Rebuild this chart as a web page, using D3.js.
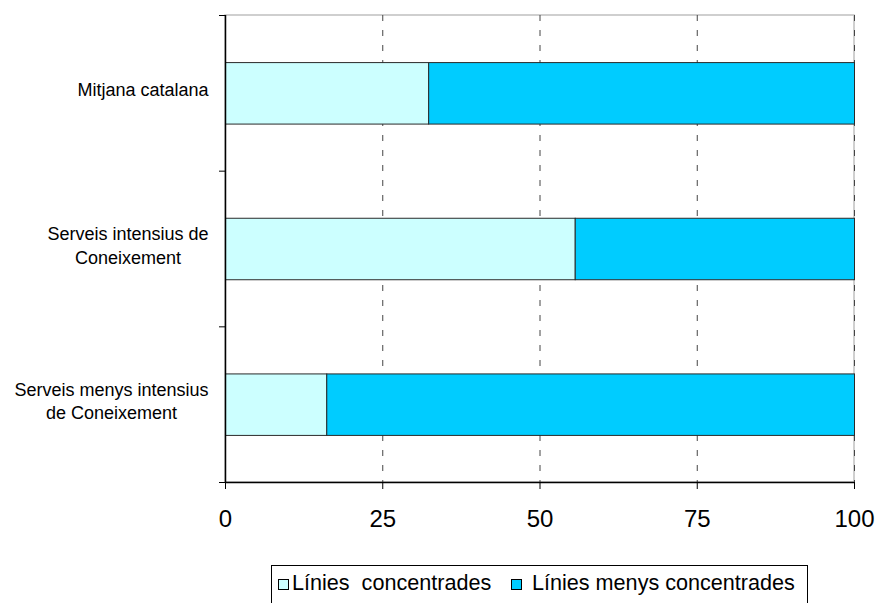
<!DOCTYPE html>
<html>
<head>
<meta charset="utf-8">
<script src="https://cdn.jsdelivr.net/npm/d3@7"></script>
<style>
  html, body { margin: 0; padding: 0; background: #fff; }
  svg { display: block; font-family: "Liberation Sans", Arial, sans-serif; }
  .pre { white-space: pre; }
</style>
</head>
<body>
<svg id="chart" width="877" height="603"></svg>
<script>
// Categories (top to bottom), each label split into its display lines
const categories = ["Mitjana catalana", "Serveis intensius de Coneixement", "Serveis menys intensius de Coneixement"];
const categoryLines = [["Mitjana catalana"], ["Serveis intensius de", "Coneixement"], ["Serveis menys intensius", "de Coneixement"]];

// Share of each category (%)
const concentrated = [32.3, 55.6, 16.1];
const lessConcentrated = [67.7, 44.4, 83.9];

const seriesNames = ["Línies  concentrades", "Línies menys concentrades"];
const seriesColors = ["#CCFFFF", "#00CCFF"];
const xTicks = [0, 25, 50, 75, 100];

const svg = d3.select("#chart");
const plot = { left: 225, right: 854, top: 15, bottom: 482 };

const x = d3.scaleLinear().domain([0, 100]).range([plot.left, plot.right]);
const y = d3.scaleBand().domain(categories).range([plot.top, plot.bottom])
  .paddingInner(0.605).paddingOuter(0.3025);
const step = y.step();

// Plot area frame
svg.append("rect")
  .attr("x", plot.left).attr("y", plot.top)
  .attr("width", plot.right - plot.left).attr("height", plot.bottom - plot.top)
  .attr("fill", "none").attr("stroke", "#c0c0c0").attr("stroke-width", 1.5);

// Dashed vertical gridlines
svg.append("g").selectAll("line")
  .data(xTicks.filter(d => d > 0))
  .join("line")
  .attr("x1", d => x(d) + 0.5).attr("x2", d => x(d) + 0.5)
  .attr("y1", plot.top).attr("y2", plot.bottom)
  .attr("stroke", "#444").attr("stroke-width", 1)
  .attr("stroke-dasharray", "6,9");

// Stacked bars
const stackData = categories.map((c, i) => ({ cat: c, a: concentrated[i], b: lessConcentrated[i] }));
const stack = d3.stack().keys(["a", "b"])(stackData);
svg.append("g").selectAll("g")
  .data(stack)
  .join("g")
  .attr("fill", (d, i) => seriesColors[i])
  .selectAll("rect")
  .data(d => d)
  .join("rect")
  .attr("x", d => x(d[0]) + 0.5)
  .attr("y", d => y(d.data.cat) + 0.5)
  .attr("width", d => x(d[1]) - x(d[0]))
  .attr("height", y.bandwidth())
  .attr("stroke", "#2a2a2a").attr("stroke-width", 1);

// Y axis line and ticks at category boundaries
const yAxis = svg.append("g");
yAxis.append("line")
  .attr("x1", plot.left + 0.5).attr("x2", plot.left + 0.5)
  .attr("y1", plot.top).attr("y2", plot.bottom)
  .attr("stroke", "#000").attr("stroke-width", 1.5);
yAxis.selectAll(".tick")
  .data(d3.range(categories.length + 1))
  .join("line")
  .attr("x1", plot.left - 6).attr("x2", plot.left)
  .attr("y1", i => plot.top + i * step + 0.5).attr("y2", i => plot.top + i * step + 0.5)
  .attr("stroke", "#000").attr("stroke-width", 1);

// Category labels: block right-aligned, lines centred within the block
const labelRight = 208.5;
const lineH = 23.3;
categoryLines.forEach((lines, i) => {
  const g = svg.append("g");
  const texts = g.selectAll("text").data(lines).join("text")
    .attr("font-size", 18).attr("fill", "#000")
    .attr("text-anchor", "middle")
    .text(d => d);
  const widths = texts.nodes().map(n => n.getComputedTextLength());
  const maxW = d3.max(widths);
  const cx = labelRight - maxW / 2;
  const cy = y(categories[i]) + y.bandwidth() / 2 - 3;
  const firstBase = cy + 6.5 - (lines.length - 1) * lineH / 2;
  texts.attr("x", cx).attr("y", (d, j) => firstBase + j * lineH);
});

// X axis
const xAxis = svg.append("g").attr("transform", `translate(0,${plot.bottom})`)
  .call(d3.axisBottom(x).tickValues(xTicks).tickSize(7).tickPadding(10).tickFormat(d3.format("d")));
xAxis.select(".domain").attr("stroke", "#000").attr("stroke-width", 1.5)
  .attr("d", `M${plot.left},0.5H${plot.right}`);
xAxis.selectAll(".tick line").attr("stroke", "#000");
xAxis.selectAll(".tick text")
  .attr("font-family", "'Liberation Sans', Arial, sans-serif")
  .attr("font-size", 24).attr("fill", "#000")
  .attr("dy", null).attr("y", 45);

// Legend
const legend = svg.append("g");
legend.append("rect")
  .attr("x", 271.5).attr("y", 565.5).attr("width", 536).attr("height", 60)
  .attr("fill", "#fff").attr("stroke", "#000").attr("stroke-width", 1);
const legendItems = [
  { sx: 278.5, tx: 292 },
  { sx: 511.5, tx: 532 }
];
legendItems.forEach((it, i) => {
  legend.append("rect")
    .attr("x", it.sx).attr("y", 579.5).attr("width", 10).attr("height", 10)
    .attr("fill", seriesColors[i]).attr("stroke", "#000").attr("stroke-width", 1);
  legend.append("text")
    .attr("class", "pre")
    .attr("x", it.tx).attr("y", 589.5)
    .attr("font-size", 21.6).attr("fill", "#000")
    .text(seriesNames[i]);
});
</script>
</body>
</html>
